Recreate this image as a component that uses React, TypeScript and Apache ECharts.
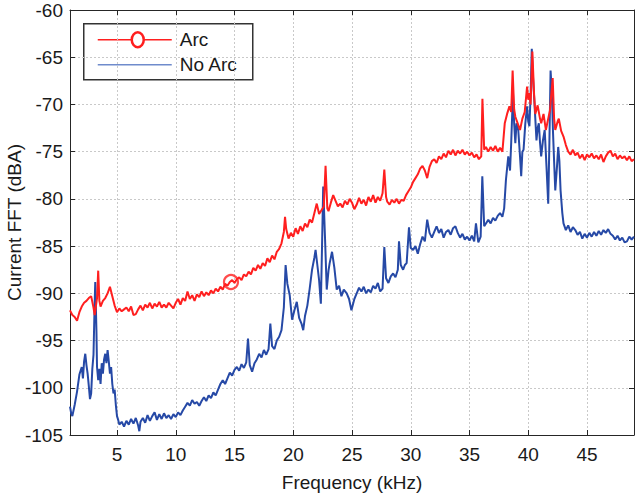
import React, { useEffect, useRef } from "react";
import * as echarts from "echarts";

// Arc (red) series: frequency in kHz and level in dBA
const arcFreq = [
  1.0, 1.2, 1.4, 1.6, 1.8, 2.0, 2.2, 2.4, 2.6, 2.8, 3.0, 3.1, 3.3, 3.4, 3.5, 3.6, 3.8, 4.0, 4.2, 4.4,
  4.6, 4.8, 5.0, 5.2, 5.4, 5.6, 5.8, 6.0, 6.2, 6.4, 6.6, 6.8, 7.0, 7.2, 7.4, 7.6, 7.8, 8.0, 8.2, 8.4,
  8.6, 8.8, 9.0, 9.2, 9.4, 9.6, 9.8, 10.0, 10.2, 10.4, 10.6, 10.8, 11.0, 11.2, 11.4, 11.6, 11.8, 12.0, 12.2, 12.4,
  12.6, 12.8, 13.0, 13.2, 13.4, 13.6, 13.8, 14.0, 14.2, 14.4, 14.6, 14.8, 15.0, 15.2, 15.4, 15.6, 15.8, 16.0, 16.2, 16.4,
  16.6, 16.8, 17.0, 17.2, 17.4, 17.6, 17.8, 18.0, 18.2, 18.4, 18.6, 18.8, 19.0, 19.2, 19.3, 19.4, 19.6, 19.8, 20.0, 20.2,
  20.4, 20.6, 20.8, 21.0, 21.2, 21.4, 21.6, 21.8, 22.0, 22.2, 22.4, 22.6, 22.75, 22.9, 23.0, 23.2, 23.4, 23.6, 23.8, 24.0,
  24.2, 24.4, 24.6, 24.8, 25.0, 25.2, 25.4, 25.6, 25.8, 26.0, 26.2, 26.4, 26.6, 26.8, 27.0, 27.2, 27.4, 27.6, 27.75, 27.9,
  28.0, 28.2, 28.4, 28.6, 28.8, 29.0, 29.2, 29.4, 29.6, 29.8, 30.0, 30.2, 30.4, 30.6, 30.8, 31.0, 31.2, 31.4, 31.6, 31.8,
  32.0, 32.2, 32.4, 32.6, 32.8, 33.0, 33.2, 33.4, 33.6, 33.8, 34.0, 34.2, 34.4, 34.6, 34.8, 35.0, 35.2, 35.4, 35.6, 35.8,
  36.0, 36.1, 36.25, 36.4, 36.6, 36.8, 37.0, 37.2, 37.4, 37.6, 37.8, 38.0, 38.2, 38.4, 38.55, 38.67, 38.8, 38.9, 39.1, 39.3,
  39.5, 39.7, 39.9, 40.0, 40.1, 40.2, 40.35, 40.5, 40.6, 40.8, 41.0, 41.1, 41.3, 41.5, 41.7, 41.85, 42.08, 42.2, 42.3, 42.5,
  42.6, 42.8, 43.0, 43.2, 43.4, 43.6, 43.8, 44.0, 44.2, 44.4, 44.6, 44.8, 45.0, 45.2, 45.4, 45.6, 45.8, 46.0, 46.2, 46.4,
  46.6, 46.8, 47.0, 47.2, 47.4, 47.6, 47.8, 48.0, 48.2, 48.4, 48.6, 48.8, 49.0,
];
const arcLevel = [
  -91.8, -92.3, -92.5, -92.9, -92.0, -91.4, -91.0, -90.8, -90.5, -90.3, -91.5, -92.3, -90.5, -87.6, -90.8, -91.4, -90.8, -90.5, -90.0, -89.3,
  -90.3, -91.3, -92.0, -91.6, -91.9, -91.7, -91.5, -91.9, -91.4, -92.3, -92.2, -91.7, -91.3, -91.8, -91.2, -91.5, -91.0, -91.6, -91.1, -91.4,
  -90.9, -91.5, -91.2, -91.5, -91.0, -91.3, -91.6, -91.0, -90.6, -91.2, -90.5, -90.8, -89.8, -90.6, -90.2, -90.8, -90.1, -90.4, -89.8, -90.3,
  -89.9, -90.2, -89.7, -90.0, -89.5, -89.8, -89.3, -89.6, -89.0, -89.2, -88.8, -88.6, -88.9, -88.5, -88.3, -88.6, -88.0, -88.2, -87.7, -88.0,
  -87.3, -87.6, -87.0, -87.4, -86.8, -87.1, -86.3, -86.7, -86.0, -86.4, -85.6, -85.3, -84.7, -83.5, -81.9, -83.2, -84.2, -83.6, -84.0, -83.1,
  -83.7, -82.9, -83.4, -82.6, -83.0, -82.2, -82.5, -81.5, -80.5, -81.6, -81.2, -80.8, -76.5, -81.0, -81.3, -80.4, -79.6, -80.2, -80.8, -80.5,
  -80.9, -80.2, -80.6, -80.0, -80.4, -81.1, -80.6, -79.9, -80.5, -80.1, -80.7, -79.8, -80.3, -79.6, -80.4, -79.8, -80.2, -79.4, -76.9, -79.8,
  -80.3, -80.6, -80.1, -80.4, -80.0, -80.5, -80.1, -80.2, -79.6, -79.2, -78.8, -78.2, -77.8, -77.4, -76.8, -76.5, -77.0, -77.8, -76.6, -76.0,
  -75.8, -76.2, -75.5, -75.8, -75.2, -75.6, -74.9, -75.3, -74.8, -75.4, -74.9, -75.2, -74.8, -75.3, -75.0, -75.4, -75.1, -75.6, -75.3, -75.8,
  -75.5, -69.4, -74.8, -74.5, -75.0, -74.5, -74.9, -74.4, -75.0, -74.6, -75.0, -72.0, -71.0, -70.2, -70.8, -66.4, -70.5, -71.3, -72.0, -72.7,
  -71.5, -70.8, -68.1, -69.5, -68.8, -70.0, -64.4, -69.0, -71.0, -70.1, -71.5, -72.0, -71.0, -72.7, -71.5, -70.6, -67.2, -71.5, -72.7, -71.8,
  -71.5, -72.8, -73.4, -74.3, -75.0, -75.3, -74.8, -75.4, -75.1, -75.7, -75.3, -75.9, -75.3, -75.6, -75.2, -75.7, -75.4, -75.8, -75.3, -76.1,
  -75.5, -75.1, -74.9, -75.5, -75.2, -75.8, -75.4, -75.7, -75.5, -75.9, -75.5, -76.0, -75.8,
];

// No Arc (blue) series
const noArcFreq = [
  1.0, 1.1, 1.2, 1.4, 1.6, 1.8, 2.0, 2.1, 2.2, 2.3, 2.4, 2.5, 2.6, 2.7, 2.8, 2.9, 3.0, 3.1, 3.15, 3.25,
  3.3, 3.4, 3.5, 3.6, 3.7, 3.8, 3.9, 4.0, 4.1, 4.2, 4.3, 4.4, 4.5, 4.6, 4.7, 4.8, 4.9, 5.0, 5.1, 5.2,
  5.4, 5.6, 5.8, 6.0, 6.2, 6.4, 6.6, 6.8, 6.9, 7.0, 7.2, 7.4, 7.6, 7.8, 8.0, 8.2, 8.4, 8.6, 8.8, 9.0,
  9.2, 9.4, 9.6, 9.8, 10.0, 10.2, 10.4, 10.6, 10.8, 11.0, 11.2, 11.4, 11.6, 11.8, 12.0, 12.2, 12.4, 12.6, 12.8, 13.0,
  13.2, 13.4, 13.6, 13.8, 14.0, 14.2, 14.4, 14.6, 14.8, 15.0, 15.2, 15.4, 15.6, 15.8, 16.0, 16.15, 16.3, 16.5, 16.7, 16.9,
  17.1, 17.3, 17.5, 17.7, 17.9, 18.05, 18.2, 18.4, 18.6, 18.8, 19.0, 19.2, 19.35, 19.5, 19.7, 19.9, 20.1, 20.3, 20.5, 20.7,
  20.85, 21.0, 21.2, 21.4, 21.6, 21.8, 21.9, 22.05, 22.2, 22.35, 22.45, 22.55, 22.7, 22.85, 23.0, 23.1, 23.3, 23.5, 23.7, 23.9,
  24.1, 24.3, 24.55, 24.75, 24.95, 25.2, 25.4, 25.6, 25.8, 26.0, 26.2, 26.4, 26.6, 26.8, 27.0, 27.2, 27.4, 27.6, 27.75, 27.9,
  28.1, 28.3, 28.5, 28.7, 28.9, 29.0, 29.15, 29.35, 29.5, 29.65, 29.85, 30.0, 30.2, 30.4, 30.6, 30.8, 31.0, 31.2, 31.4, 31.6,
  31.8, 32.0, 32.2, 32.4, 32.6, 32.8, 33.0, 33.2, 33.4, 33.6, 33.8, 34.0, 34.2, 34.4, 34.6, 34.8, 35.0, 35.2, 35.4, 35.55,
  35.75, 35.95, 36.09, 36.25, 36.4, 36.6, 36.8, 37.0, 37.2, 37.4, 37.6, 37.8, 37.95, 38.1, 38.3, 38.45, 38.55, 38.7, 38.8, 38.9,
  39.0, 39.15, 39.3, 39.4, 39.5, 39.6, 39.75, 39.9, 40.0, 40.1, 40.2, 40.3, 40.4, 40.5, 40.6, 40.7, 40.8, 40.9, 41.0, 41.1,
  41.25, 41.4, 41.55, 41.7, 41.8, 41.9, 42.0, 42.1, 42.2, 42.3, 42.45, 42.55, 42.65, 42.75, 42.9, 43.0, 43.2, 43.4, 43.6, 43.8,
  44.0, 44.2, 44.4, 44.6, 44.8, 45.0, 45.2, 45.4, 45.6, 45.8, 46.0, 46.2, 46.4, 46.6, 46.8, 47.0, 47.2, 47.4, 47.6, 47.8,
  48.0, 48.2, 48.4, 48.6, 48.8, 49.0,
];
const noArcLevel = [
  -102.0, -102.7, -103.0, -101.8, -100.4, -98.6, -97.8, -99.0, -97.2, -96.4, -97.6, -98.5, -99.8, -101.2, -100.6, -98.0, -96.5, -91.0, -88.8, -94.0,
  -97.8, -99.2, -98.0, -99.6, -97.4, -98.5, -97.0, -96.4, -97.4, -96.0, -97.2, -98.5, -97.8, -99.6, -100.6, -100.2, -101.8, -103.0, -103.4, -103.9,
  -103.6, -104.1, -103.5, -103.9, -103.3, -103.8, -103.2, -104.0, -104.6, -103.6, -103.2, -103.7, -102.9, -103.5, -103.0, -102.6, -103.4, -102.8, -103.3, -102.7,
  -103.2, -102.9, -103.3, -102.8, -103.1, -102.6, -102.9, -102.4, -102.0, -101.6, -101.9, -101.3, -101.7, -101.5, -101.9, -101.4, -101.0, -101.4, -100.8, -101.1,
  -100.5, -100.8, -100.2, -99.6, -99.2, -99.6, -99.0, -98.4, -98.7, -98.1, -97.8, -98.2, -97.5, -97.9, -97.3, -94.8, -97.6, -98.3, -97.4, -97.0,
  -96.4, -96.8, -96.0, -96.5, -95.9, -93.2, -95.6, -95.9, -95.0, -94.6, -93.9, -91.5, -87.0, -89.0, -90.2, -92.8, -91.8, -90.9, -92.6, -93.2,
  -93.9, -92.4, -91.3, -89.5, -87.5, -86.2, -85.4, -87.0, -88.6, -91.1, -85.0, -78.7, -84.0, -89.6, -87.6, -86.8, -85.6, -87.3, -89.6, -89.2,
  -90.3, -89.6, -90.0, -90.6, -91.8, -90.6, -90.0, -89.4, -89.8, -89.3, -90.0, -89.6, -89.9, -89.2, -89.5, -88.9, -89.8, -89.5, -85.1, -88.4,
  -88.9, -88.2, -87.9, -88.3, -87.5, -84.5, -87.0, -87.5, -87.0, -86.8, -83.0, -85.2, -85.4, -85.0, -85.8, -84.8, -84.0, -84.5, -82.2, -83.6,
  -84.1, -83.5, -82.9, -83.6, -83.2, -84.1, -83.5, -83.3, -83.8, -83.1, -82.9, -83.6, -84.1, -83.7, -84.3, -84.0, -84.4, -83.9, -84.5, -82.6,
  -84.6, -84.0, -77.6, -82.9, -82.6, -82.2, -82.6, -82.0, -82.3, -81.8, -81.5, -81.9, -81.0, -78.0, -75.5, -77.0, -74.0, -68.7, -72.0, -74.1,
  -72.0, -72.7, -75.5, -77.6, -75.0, -74.8, -72.0, -70.2, -71.8, -72.3, -69.0, -64.1, -67.0, -69.2, -71.5, -73.8, -72.5, -72.0, -74.0, -75.5,
  -73.8, -72.7, -76.5, -80.5, -74.0, -66.4, -68.5, -72.7, -76.0, -79.1, -76.5, -74.5, -76.0, -79.1, -81.5, -82.6, -83.3, -82.8, -83.5, -83.0,
  -83.3, -83.8, -83.5, -84.2, -83.7, -84.1, -83.6, -84.0, -83.5, -83.9, -83.4, -83.8, -83.3, -83.6, -83.2, -83.7, -83.9, -84.3, -83.9, -84.4,
  -84.1, -84.6, -84.5, -84.0, -84.3, -84.0,
];

// Single circle marker on the Arc curve
const arcMarker = [14.7, -88.8];

const seriesNames = ["Arc", "No Arc"];
const xLabel = "Frequency (kHz)";
const yLabel = "Current FFT (dBA)";

const RED = "#ff1f1f";
const BLUE = "#2649a6";
const FONT = "Liberation Sans, Arial, sans-serif";
const AXIS = "#262626";

export default function App() {
  const ref = useRef<HTMLDivElement>(null);

  useEffect(() => {
    if (!ref.current) return;
    const chart = echarts.init(ref.current, undefined, { renderer: "svg" });
    const zip = (xs: number[], ys: number[]) => xs.map((x, i) => [x, ys[i]]);

    const xBase = {
      type: "value" as const,
      min: 1,
      max: 49,
      splitNumber: 10,
      axisLine: { show: true, onZero: false, lineStyle: { color: AXIS, width: 1 } },
      axisTick: { show: true, inside: true, length: 5, lineStyle: { color: AXIS } },
    };
    const yBase = {
      type: "value" as const,
      min: -105,
      max: -60,
      interval: 5,
      axisLine: { show: true, onZero: false, lineStyle: { color: AXIS, width: 1 } },
      axisTick: { show: true, inside: true, length: 5, lineStyle: { color: AXIS } },
    };

    chart.setOption({
      animation: false,
      backgroundColor: "#ffffff",
      grid: { left: 70, top: 10, right: 2, bottom: 62, containLabel: false, outerBoundsMode: "none" },
      xAxis: [
        {
          ...xBase,
          position: "bottom",
          name: xLabel,
          nameLocation: "middle",
          nameGap: 38,
          nameTextStyle: { fontFamily: FONT, fontSize: 19, color: "#1a1a1a" },
          axisLabel: {
            show: true,
            margin: 10,
            fontFamily: FONT,
            fontSize: 19,
            color: "#1a1a1a",
            showMinLabel: false,
            showMaxLabel: false,
          },
          splitLine: { show: true, lineStyle: { color: "#c9c9c9", type: [2, 2], width: 1 } },
        },
        {
          ...xBase,
          position: "top",
          axisLabel: { show: false },
          splitLine: { show: false },
        },
      ],
      yAxis: [
        {
          ...yBase,
          position: "left",
          name: yLabel,
          nameLocation: "middle",
          nameGap: 46,
          nameMoveOverlap: false,
          nameTextStyle: { fontFamily: FONT, fontSize: 19, color: "#1a1a1a" },
          axisLabel: { show: true, margin: 7, fontFamily: FONT, fontSize: 19, color: "#1a1a1a" },
          splitLine: { show: true, lineStyle: { color: "#c9c9c9", type: [2, 2], width: 1 } },
        },
        {
          ...yBase,
          position: "right",
          axisLabel: { show: false },
          splitLine: { show: false },
        },
      ],
      series: [
        {
          name: seriesNames[1],
          type: "line",
          data: zip(noArcFreq, noArcLevel),
          showSymbol: false,
          symbol: "none",
          lineStyle: { color: BLUE, width: 2 },
          itemStyle: { color: BLUE },
          z: 2,
        },
        {
          name: seriesNames[0],
          type: "line",
          data: zip(arcFreq, arcLevel),
          showSymbol: false,
          symbol: "none",
          lineStyle: { color: RED, width: 2 },
          itemStyle: { color: RED },
          z: 3,
        },
        {
          name: seriesNames[0] + " marker",
          type: "scatter",
          data: [arcMarker],
          symbol: "circle",
          symbolSize: 14,
          itemStyle: { color: "rgba(255,255,255,0)", borderColor: RED, borderWidth: 2.2 },
          z: 4,
        },
      ],
      graphic: [
        {
          type: "group",
          left: 83,
          top: 23,
          children: [
            {
              type: "rect",
              shape: { x: 0, y: 0, width: 169, height: 56 },
              style: { fill: "#ffffff", stroke: "#333333", lineWidth: 1.5 },
            },
            {
              type: "line",
              shape: { x1: 14, y1: 16, x2: 88, y2: 16 },
              style: { stroke: RED, lineWidth: 1.5 },
            },
            {
              type: "ellipse",
              shape: { cx: 54, cy: 16, rx: 6, ry: 7.5 },
              style: { fill: "#ffffff", stroke: RED, lineWidth: 2.5 },
            },
            {
              type: "text",
              style: { x: 96, y: 16, text: seriesNames[0], fontFamily: FONT, fontSize: 19, fill: "#1a1a1a", verticalAlign: "middle" },
            },
            {
              type: "line",
              shape: { x1: 14, y1: 41, x2: 88, y2: 41 },
              style: { stroke: "#6f8bcc", lineWidth: 1.5 },
            },
            {
              type: "text",
              style: { x: 96, y: 41, text: seriesNames[1], fontFamily: FONT, fontSize: 19, fill: "#1a1a1a", verticalAlign: "middle" },
            },
          ],
        },
      ],
    });

    return () => chart.dispose();
  }, []);

  return <div ref={ref} style={{ position: "absolute", left: 0, top: 0, width: 636, height: 497 }} />;
}
